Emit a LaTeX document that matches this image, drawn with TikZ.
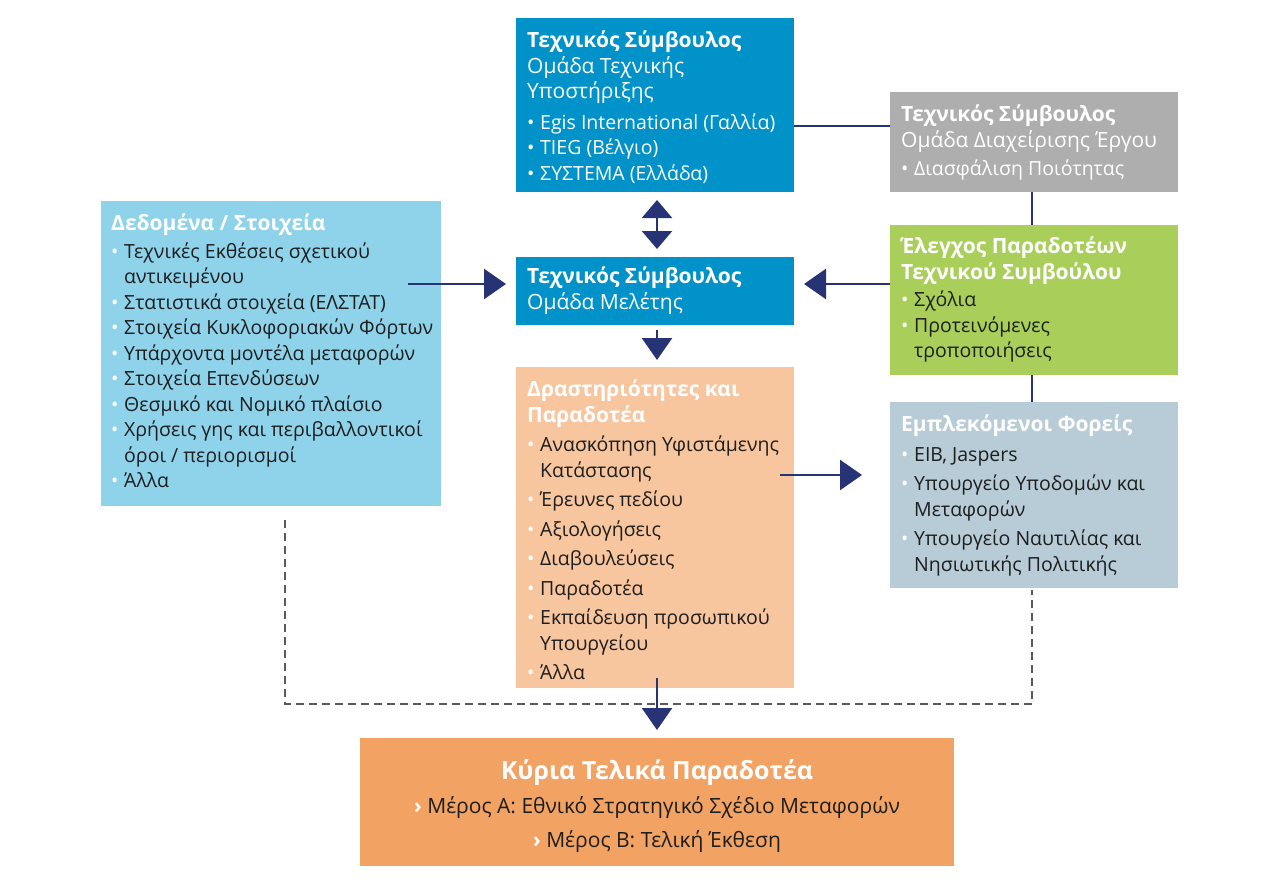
\documentclass[tikz,border=0pt]{standalone}
\usepackage{fontspec}
\setmainfont{Open Sans}
\usetikzlibrary{arrows.meta}
\definecolor{cTop}{RGB}{0,146,200}
\definecolor{cGray}{RGB}{174,174,174}
\definecolor{cData}{RGB}{143,211,234}
\definecolor{cGreen}{RGB}{169,207,90}
\definecolor{cPeach}{RGB}{247,197,158}
\definecolor{cGB}{RGB}{183,204,214}
\definecolor{cOr}{RGB}{242,162,98}
\definecolor{cNavy}{RGB}{38,52,117}
\definecolor{cTxt}{RGB}{30,30,30}
\newcommand{\bb}{\makebox[13pt][l]{\color{white}\textbullet}}
\newcommand{\ii}{\hspace*{13pt}}
\newcommand{\ttl}[1]{{\fontsize{21}{25.5}\selectfont\textbf{#1}}}
\newcommand{\sbt}[1]{{\fontsize{21}{25.5}\selectfont #1}}
\begin{document}
\begin{tikzpicture}[x=1pt,y=-1pt,
  txt/.style={anchor=north west,inner sep=0pt,align=left,font=\fontsize{19.5}{25.5}\selectfont},
  link/.style={cNavy,line width=2pt},
  arr/.style={cNavy,line width=2.5pt,-{Triangle[width=30pt,length=22pt]}},
  dashln/.style={draw=black!65,line width=1.5pt,dash pattern=on 8pt off 5pt}]
\useasboundingbox (0,0) rectangle (1280,888);
\newcommand{\bx}[6]{\fill[#6] (#2,#3) rectangle (#4,#5); \node[inner sep=0pt] (#1) at ({(#2+#4)/2},{(#3+#5)/2}) [minimum width={#4-#2},minimum height={#5-#3}] {};}
\bx{top}{516}{18}{794}{192}{cTop}
\bx{gray}{890}{92}{1178}{192}{cGray}
\bx{data}{101}{201}{441}{506}{cData}
\bx{mid}{516}{257}{794}{325}{cTop}
\bx{green}{890}{225}{1178}{375}{cGreen}
\bx{peach}{516}{367}{794}{688}{cPeach}
\bx{gb}{890}{402}{1178}{588}{cGB}
\bx{bot}{360}{738}{954}{866}{cOr}

\node[txt,text=white] (ttop) at (527,31) {\ttl{Τεχνικός Σύμβουλος}\\\sbt{Ομάδα Τεχνικής}\\\sbt{Υποστήριξης}\\[5pt]
\bb Egis International (Γαλλία)\\\bb TIEG (Βέλγιο)\\\bb ΣΥΣΤΕΜΑ (Ελλάδα)};
\node[txt,text=white] (tgray) at (901,105) {\ttl{Τεχνικός Σύμβουλος}\\\sbt{Ομάδα Διαχείρισης Έργου}\\[3pt]\bb Διασφάλιση Ποιότητας};
\node[txt,text=cTxt] (tdata) at (111,214) {\textcolor{white}{\ttl{Δεδομένα / Στοιχεία}}\\[2pt]
\bb Τεχνικές Εκθέσεις σχετικού\\\ii αντικειμένου\\\bb Στατιστικά στοιχεία (ΕΛΣΤΑΤ)\\\bb Στοιχεία Κυκλοφοριακών Φόρτων\\
\bb Υπάρχοντα μοντέλα μεταφορών\\\bb Στοιχεία Επενδύσεων\\\bb Θεσμικό και Νομικό πλαίσιο\\
\bb Χρήσεις γης και περιβαλλοντικοί\\\ii όροι / περιορισμοί\\\bb Άλλα};
\node[txt,text=white] (tmid) at (527,267) {\ttl{Τεχνικός Σύμβουλος}\\\sbt{Ομάδα Μελέτης}};
\node[txt,text=cTxt] (tgreen) at (901,237) {\textcolor{white}{\ttl{Έλεγχος Παραδοτέων}}\\\textcolor{white}{\ttl{Τεχνικού Συμβούλου}}\\[2pt]
\bb Σχόλια\\\bb Προτεινόμενες\\\ii τροποποιήσεις};
\node[txt,text=cTxt] (tpeach) at (527,380) {\textcolor{white}{\ttl{Δραστηριότητες και}}\\\textcolor{white}{\ttl{Παραδοτέα}}\\[4pt]
\bb Ανασκόπηση Υφιστάμενης\\\ii Κατάστασης\\[4pt]\bb Έρευνες πεδίου\\[4pt]\bb Αξιολογήσεις\\[4pt]\bb Διαβουλεύσεις\\[4pt]\bb Παραδοτέα\\[4pt]
\bb Εκπαίδευση προσωπικού\\\ii Υπουργείου\\[4pt]\bb Άλλα};
\node[txt,text=cTxt] (tgb) at (901,415) {\textcolor{white}{\ttl{Εμπλεκόμενοι Φορείς}}\\[4pt]
\bb EIB, Jaspers\\[4pt]\bb Υπουργείο Υποδομών και\\\ii Μεταφορών\\[4pt]\bb Υπουργείο Ναυτιλίας και\\\ii Νησιωτικής Πολιτικής};
\node[inner sep=0pt,align=center,text=cTxt,font=\fontsize{21}{34}\selectfont] (tbot) at (657,806)
{\textcolor{white}{\fontsize{25}{34}\selectfont\textbf{Κύρια Τελικά Παραδοτέα}}\\
\textcolor{white}{\textbf{›}} Μέρος Α: Εθνικό Στρατηγικό Σχέδιο Μεταφορών\\\textcolor{white}{\textbf{›}} Μέρος Β: Τελική Έκθεση};

\coordinate (c1) at (1032,192); \coordinate (c2) at (1032,225);
\coordinate (c3) at (1032,375); \coordinate (c4) at (1032,402);
\draw[link] (794,126) -- (890,126);
\draw[link] (c1) -- (c2); \draw[link] (c3) -- (c4);
\coordinate (d1) at (657,200); \coordinate (d2) at (657,249);
\draw[cNavy,line width=2.5pt,{Triangle[width=30pt,length=18pt]}-{Triangle[width=30pt,length=18pt]}] (d1) -- (d2);
\coordinate (a1) at (408,284); \coordinate (a2) at (506,284);
\draw[arr] (a1) -- (a2);
\coordinate (b1) at (890,284); \coordinate (b2) at (804,284);
\draw[arr] (b1) -- (b2);
\coordinate (m1) at (657,330); \coordinate (m2) at (657,360);
\draw[arr] (m1) -- (m2);
\coordinate (p1) at (780,475); \coordinate (p2) at (862,475);
\draw[arr] (p1) -- (p2);
\coordinate (q1) at (657,678); \coordinate (q2) at (657,730);
\draw[arr] (q1) -- (q2);
\coordinate (e1) at (285,520); \coordinate (e2) at (285,704); \coordinate (e3) at (1032,704); \coordinate (e4) at (1032,590);
\draw[dashln] (e1) -- (e2) -- (e3) -- (e4);
\end{tikzpicture}
\end{document}
